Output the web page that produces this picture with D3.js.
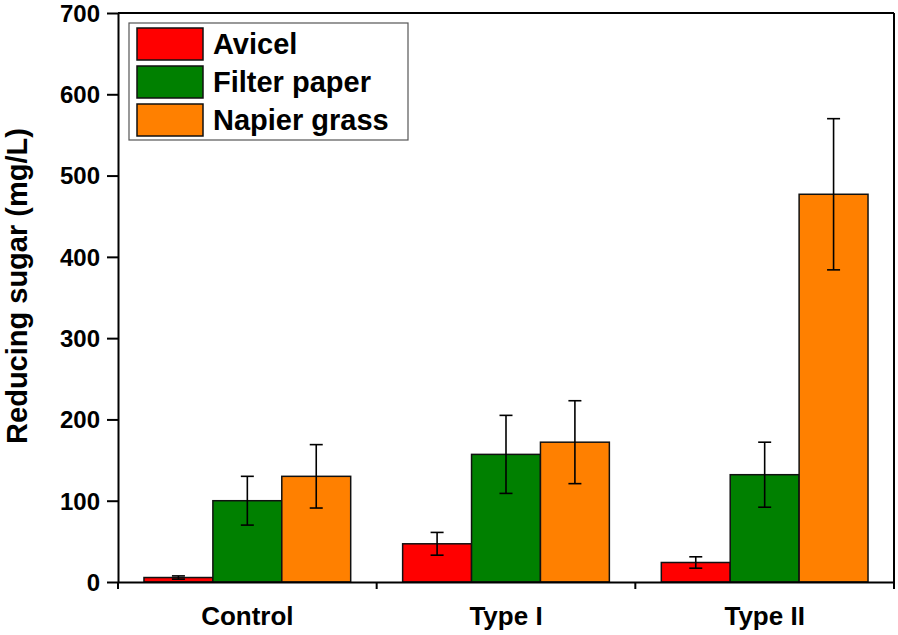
<!DOCTYPE html>
<html>
<head>
<meta charset="utf-8">
<script src="https://cdn.jsdelivr.net/npm/d3@7"></script>
<style>
  html, body { margin: 0; padding: 0; background: #fff; }
  svg { display: block; }
  text { font-family: "Liberation Sans", Arial, sans-serif; font-weight: bold; fill: #000; }
</style>
</head>
<body>
<svg id="chart" width="898" height="635"></svg>
<script>
const categories = ["Control", "Type I", "Type II"];
const seriesNames = ["Avicel", "Filter paper", "Napier grass"];
const seriesColors = ["#FF0000", "#008000", "#FF8000"];
const avicel = [5.5, 47, 24];
const avicelErr = [2, 14, 7];
const filterPaper = [100, 157, 132];
const filterPaperErr = [30, 48, 40];
const napierGrass = [130, 172, 477];
const napierGrassErr = [39, 51, 93];
const yTicks = [0, 100, 200, 300, 400, 500, 600, 700];
const yLabel = "Reducing sugar (mg/L)";

const values = [avicel, filterPaper, napierGrass];
const errs = [avicelErr, filterPaperErr, napierGrassErr];

const svg = d3.select("#chart");
const mLeft = 118, mRight = 894, mTop = 13, mBottom = 582;

const x = d3.scaleBand().domain(categories).range([mLeft, mRight]).paddingInner(0).paddingOuter(0);
const xs = d3.scaleBand().domain(seriesNames).range([0, x.bandwidth()]).paddingInner(0).paddingOuter(0.377);
const y = d3.scaleLinear().domain([0, 700]).range([mBottom, mTop]);

// bars
const data = [];
categories.forEach((c, i) => {
  seriesNames.forEach((s, j) => {
    data.push({cat: c, ser: s, v: values[j][i], e: errs[j][i], color: seriesColors[j]});
  });
});

svg.append("g").selectAll("rect").data(data).join("rect")
  .attr("x", d => x(d.cat) + xs(d.ser))
  .attr("y", d => y(d.v))
  .attr("width", xs.bandwidth())
  .attr("height", d => y(0) - y(d.v))
  .attr("fill", d => d.color)
  .attr("stroke", "#111")
  .attr("stroke-width", 1.5);

// error bars
const eg = svg.append("g").attr("stroke", "#000").attr("stroke-width", 1.6);
data.forEach(d => {
  const cx = x(d.cat) + xs(d.ser) + xs.bandwidth() / 2;
  const capW = 6.5;
  eg.append("line").attr("x1", cx).attr("x2", cx).attr("y1", y(d.v + d.e)).attr("y2", y(d.v - d.e));
  eg.append("line").attr("x1", cx - capW).attr("x2", cx + capW).attr("y1", y(d.v + d.e)).attr("y2", y(d.v + d.e));
  eg.append("line").attr("x1", cx - capW).attr("x2", cx + capW).attr("y1", y(d.v - d.e)).attr("y2", y(d.v - d.e));
});

// y axis
const yAxis = svg.append("g").attr("transform", `translate(${mLeft},0)`)
  .call(d3.axisLeft(y).tickValues(yTicks).tickSize(11).tickPadding(7).tickSizeOuter(0));
yAxis.select(".domain").attr("stroke-width", 2);
yAxis.selectAll(".tick line").attr("stroke-width", 2);
yAxis.selectAll(".tick text").style("font-size", "24px").style("font-family", "Liberation Sans, Arial, sans-serif").style("font-weight", "bold").attr("dy", "0.35em");

// x axis
const xAxis = svg.append("g").attr("transform", `translate(0,${mBottom})`)
  .call(d3.axisBottom(x).tickSize(0).tickPadding(25).tickSizeOuter(0));
xAxis.select(".domain").attr("stroke-width", 2);
xAxis.selectAll(".tick text").style("font-size", "26px").style("font-family", "Liberation Sans, Arial, sans-serif").style("font-weight", "bold");
// boundary ticks between categories
const bounds = categories.map(c => x(c)).concat([x(categories[categories.length - 1]) + x.bandwidth()]);
svg.append("g").selectAll("line").data(bounds).join("line")
  .attr("x1", d => d).attr("x2", d => d)
  .attr("y1", mBottom).attr("y2", mBottom + 7)
  .attr("stroke", "#000").attr("stroke-width", 2);

// frame top and right
svg.append("line").attr("x1", mLeft).attr("x2", mRight).attr("y1", mTop).attr("y2", mTop).attr("stroke", "#000").attr("stroke-width", 2);
svg.append("line").attr("x1", mRight).attr("x2", mRight).attr("y1", mTop).attr("y2", mBottom).attr("stroke", "#000").attr("stroke-width", 2);

// y label
svg.append("text")
  .attr("transform", `translate(27,286) rotate(-90)`)
  .attr("text-anchor", "middle")
  .style("font-size", "29px")
  .text(yLabel);

// legend
const lg = svg.append("g");
lg.append("rect").attr("x", 129).attr("y", 23).attr("width", 279).attr("height", 117)
  .attr("fill", "#fff").attr("stroke", "#555").attr("stroke-width", 1.2);
seriesNames.forEach((s, i) => {
  const yy = 28 + i * 38;
  lg.append("rect").attr("x", 137).attr("y", yy).attr("width", 66).attr("height", 32)
    .attr("fill", seriesColors[i]).attr("stroke", "#111").attr("stroke-width", 1.5);
  lg.append("text").attr("x", 213).attr("y", yy + 26).style("font-size", "29px").text(s);
});
</script>
</body>
</html>
